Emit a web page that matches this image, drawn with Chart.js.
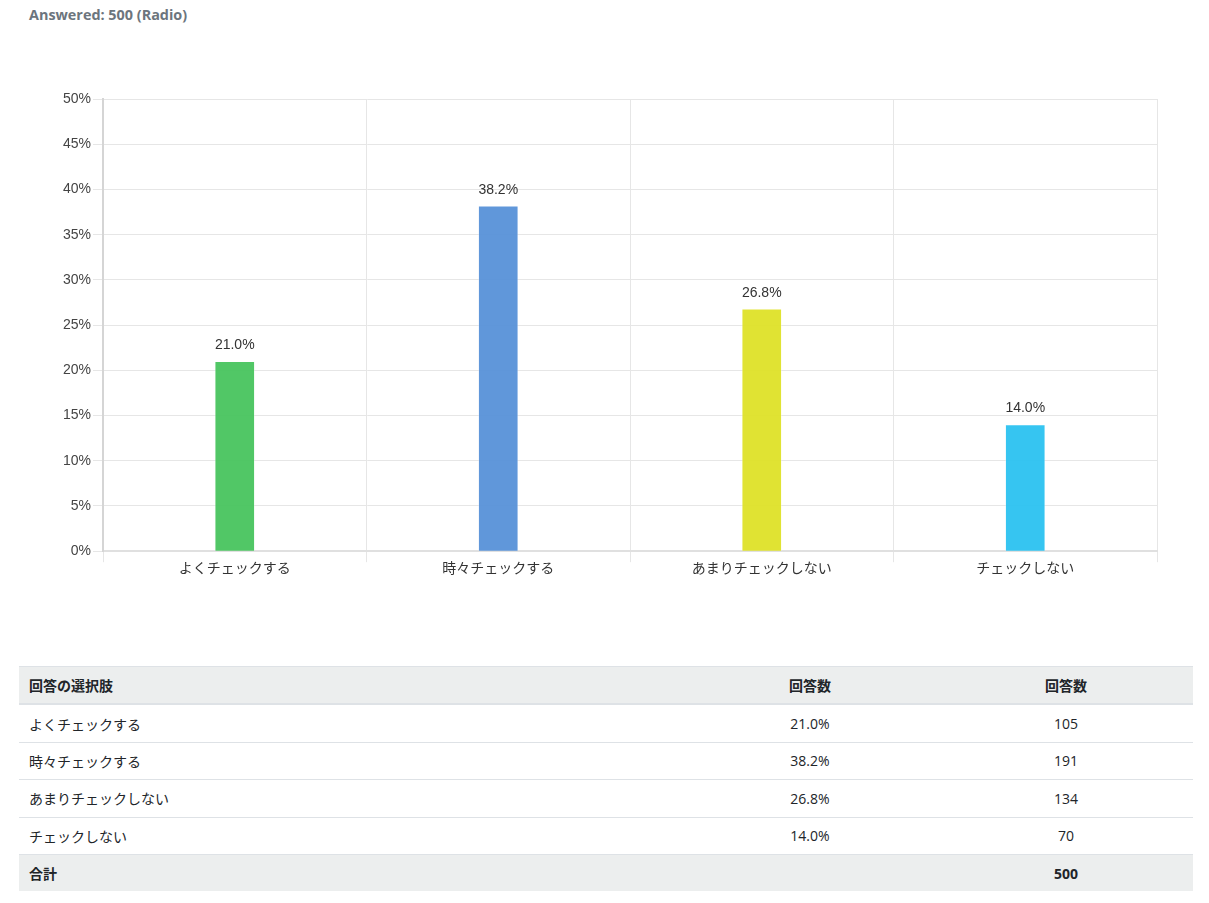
<!DOCTYPE html>
<html>
<head>
<meta charset="utf-8">
<script src="https://cdn.jsdelivr.net/npm/chart.js@4"></script>
<style>
  body { margin: 0; background: #fff; font-family: "Open Sans", "Noto Sans CJK JP", sans-serif; }
  .answered { position: absolute; left: 29px; top: 5px; font-size: 14.4px; font-weight: bold; color: #6c757d; }
  .chart-box { position: absolute; left: 40px; top: 86px; width: 1130px; height: 491px; }
  table { position: absolute; left: 19px; top: 666px; width: 1174px; border-collapse: collapse; font-size: 14px; color: #212529; font-family: "Open Sans", "Noto Sans CJK JP", sans-serif; }
  th, td { height: 36.4px; padding: 0 10px; border-top: 1px solid #dee2e6; }
  thead th { background: #eceeee; border-bottom: 2px solid #dee2e6; font-weight: bold; }
  tfoot td { background: #eceeee; font-weight: bold; }
  .c { text-align: center; }
  .l { text-align: left; }
</style>
</head>
<body>
<div class="answered">Answered: 500 (Radio)</div>
<div class="chart-box"><canvas id="bar-chart"></canvas></div>
<table>
  <thead>
    <tr><th class="l" style="width:642px">回答の選択肢</th><th class="c" style="width:238px">回答数</th><th class="c">回答数</th></tr>
  </thead>
  <tbody id="rows"></tbody>
  <tfoot>
    <tr><td class="l">合計</td><td></td><td class="c" id="total"></td></tr>
  </tfoot>
</table>
<script>
const categories = ['よくチェックする', '時々チェックする', 'あまりチェックしない', 'チェックしない'];
const percents = [21.0, 38.2, 26.8, 14.0];
const counts = [105, 191, 134, 70];
const barColors = ['rgba(72, 196, 94, 0.95)', 'rgba(87, 145, 216, 0.95)', 'rgba(222, 225, 40, 0.95)', 'rgba(43, 194, 240, 0.95)'];

// fill table from the same arrays
const $rows = document.getElementById('rows');
categories.forEach((name, i) => {
  const tr = document.createElement('tr');
  tr.innerHTML = '<td class="l">' + name + '</td><td class="c">' + percents[i].toFixed(1) + '%</td><td class="c">' + counts[i] + '</td>';
  $rows.appendChild(tr);
});
document.getElementById('total').textContent = counts.reduce((a, b) => a + b, 0);

// draws the value above each bar
const valueLabels = {
  id: 'valueLabels',
  afterDatasetsDraw(chart) {
    const ctx = chart.ctx;
    ctx.save();
    ctx.font = '14px "Liberation Sans", Arial, sans-serif';
    ctx.fillStyle = '#333';
    ctx.textAlign = 'center';
    ctx.textBaseline = 'bottom';
    chart.getDatasetMeta(0).data.forEach((bar, i) => {
      ctx.fillText(percents[i].toFixed(1) + '%', bar.x, bar.y - 9);
    });
    ctx.restore();
  },
};

const tickFont = { family: '"Liberation Sans", Arial, "Noto Sans CJK JP", sans-serif', size: 14 };

new Chart(document.getElementById('bar-chart'), {
  type: 'bar',
  data: {
    labels: categories,
    datasets: [{
      data: percents,
      backgroundColor: barColors,
      borderColor: 'rgba(255,255,255,0.3)',
      borderWidth: 1,
      barThickness: 40,
    }],
  },
  options: {
    responsive: true,
    maintainAspectRatio: false,
    animation: false,
    layout: { padding: { top: 13, right: 13 } },
    plugins: {
      legend: { display: false },
      tooltip: { enabled: false },
    },
    scales: {
      x: {
        grid: { color: '#e6e6e6', offset: true, tickLength: 11 },
        border: { color: '#e0e0e0', width: 2 },
        ticks: { color: '#333', font: tickFont, padding: -1 },
      },
      y: {
        min: 0,
        max: 50,
        afterFit: (scale) => { scale.width = 63; },
        grid: { color: '#e6e6e6', tickLength: 10 },
        border: { color: '#d5d5d5', width: 2 },
        ticks: {
          stepSize: 5,
          color: '#444',
          font: tickFont,
          padding: 2,
          callback: (v) => v + '%',
        },
      },
    },
  },
  plugins: [valueLabels],
});
</script>
</body>
</html>
